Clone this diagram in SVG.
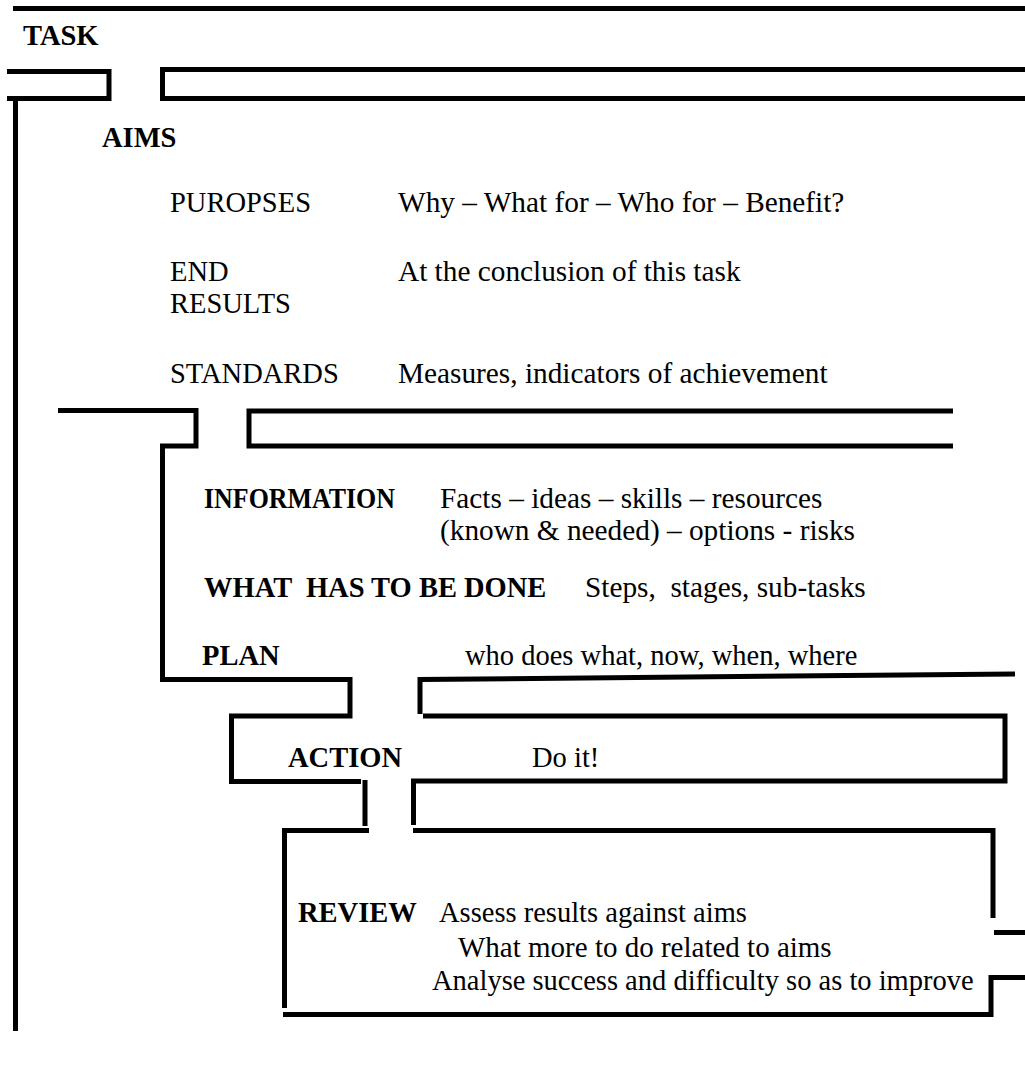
<svg xmlns="http://www.w3.org/2000/svg" width="1025" height="1067" viewBox="0 0 1025 1067">
<style>
.ln{fill:none;stroke:#000;stroke-width:5;stroke-linejoin:miter;stroke-linecap:butt}
.b{font-weight:bold}
.d{font-size:29.3px}
</style>
<rect width="1025" height="1067" fill="#fff"/>
<g id="frames">
  <line class="ln" x1="13" y1="8.5" x2="1025" y2="8.5"/>
  <path class="ln" d="M7,71.5 H109 V98.5 H7"/>
  <path class="ln" d="M15.5,97 V1031"/>
  <path class="ln" d="M1025,69.5 H162.5 V98.5 H1025"/>
  <path class="ln" d="M58,410.5 H196 V446 H162.5 V679.5 H350 V716 H231.5 V781.5 H361"/>
  <path class="ln" d="M953,411 H249 V446 H953"/>
  <path class="ln" d="M365,780 V826 M369,830.5 H284.5 V1008 M283,1014.5 H991 V977.5 H1025"/>
  <path class="ln" d="M1015,674 L420,679.5 V714 M423,716 H1005 V781 H413.5 V825 M413,830.5 H993 V918"/>
  <line class="ln" x1="994" y1="932.5" x2="1025" y2="932.5"/>
</g>
<g font-family="'Liberation Serif', Tinos, 'Times New Roman', Times, serif" font-size="28.5" fill="#000">
<g id="task"><text class="b" x="23" y="45">TASK</text></g>
<g id="aims">
  <text class="b" x="102" y="147">AIMS</text>
  <text x="170" y="212">PUROPSES</text>
  <text class="d" x="398" y="212">Why – What for – Who for – Benefit?</text>
  <text x="170" y="281">END</text>
  <text x="170" y="313">RESULTS</text>
  <text class="d" x="398" y="281">At the conclusion of this task</text>
  <text x="170" y="383">STANDARDS</text>
  <text class="d" x="398" y="383">Measures, indicators of achievement</text>
</g>
<g id="information">
  <text class="b" x="204" y="508" textLength="191" lengthAdjust="spacingAndGlyphs">INFORMATION</text>
  <text class="d" x="440" y="508">Facts – ideas – skills – resources</text>
  <text class="d" x="440" y="540">(known &amp; needed) – options - risks</text>
  <text class="b" x="204" y="597" xml:space="preserve">WHAT  HAS TO BE DONE</text>
  <text class="d" x="585" y="597" xml:space="preserve">Steps,  stages, sub-tasks</text>
</g>
<g id="plan">
  <text class="b" x="202" y="665">PLAN</text>
  <text x="465" y="665">who does what, now, when, where</text>
</g>
<g id="action">
  <text class="b" x="288" y="767">ACTION</text>
  <text x="532" y="767">Do it!</text>
</g>
<g id="review">
  <text class="b" x="298" y="922">REVIEW</text>
  <text x="439" y="922">Assess results against aims</text>
  <text x="458" y="957" font-size="29">What more to do related to aims</text>
  <text x="432" y="990">Analyse success and difficulty so as to improve</text>
</g>
</g>
</svg>
